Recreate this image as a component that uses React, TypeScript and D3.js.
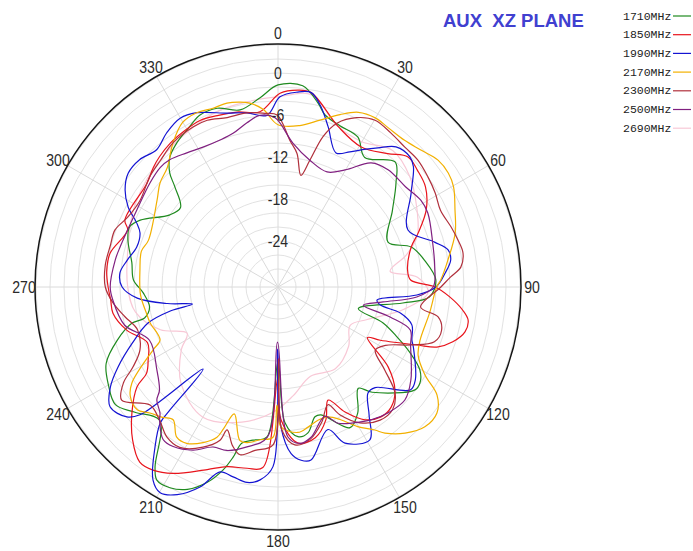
import * as d3 from "d3";

// ---- data (angle in degrees, level in dB) ----
const freqLabels = ["1710MHz", "1850MHz", "1990MHz", "2170MHz", "2300MHz", "2500MHz", "2690MHz"];
const angleTicks = [0, 30, 60, 90, 120, 150, 180, 210, 240, 270, 300, 330];
const dbTicks = [0, -6, -12, -18, -24];

const s1710: [number, number][] = [
  [0, -1.7], [7, -1.6], [12.3, -3.7], [15.3, -5.1], [21, -5.9], [28, -6.3], [33.8, -8.3], [43.1, -6.1],
  [48.6, -8.1], [56.2, -10.9], [67.8, -13.6], [73.3, -10.7], [79.6, -9.3], [87.5, -8.0], [93.8, -8.9],
  [97.3, -12.6], [105, -18.7], [108.9, -14.7], [112.8, -12.1], [116.6, -9.4], [120.3, -7.1], [124, -6.1],
  [126.9, -6.1], [138.2, -10.4], [141.6, -12.1], [147.6, -9.3], [152.9, -8.0], [161.4, -11.3], [164.1, -11.3],
  [168.4, -9.3], [172.4, -9.0], [177, -11.1], [180, -19.9], [184.2, -9.1], [189.3, -8.4], [193, -7.7],
  [194.8, -5.4], [196.7, -3.3], [199.9, -0.9], [204.1, 1.1], [208.3, 2.0], [212.1, 2.0], [214.3, 0.6],
  [221.6, -5.1], [228.8, -3.4], [234.1, -1.9], [240, -2.6], [246, -3.7], [251.7, -6.4], [256.1, -9.1],
  [256.9, -11.0], [261.1, -12.0], [267.5, -11.3], [272.8, -9.9], [279.5, -9.4], [287.4, -8.1], [292.1, -7.7],
  [295.9, -8.7], [303.7, -12.0], [309.2, -12.6], [314.2, -10.0], [316.5, -8.1], [320.3, -6.4], [325, -5.4],
  [331.2, -4.4], [335.6, -3.6], [341.2, -3.6], [347.9, -4.7], [354.6, -3.4],
];

const s1850: [number, number][] = [
  [0.6, -2.9], [5.8, -2.3], [9.7, -2.4], [20.6, -6.1], [30.7, -7.3], [39.4, -5.9], [45, -4.3], [50.1, -4.6],
  [55.8, -5.1], [62.5, -6.7], [68.9, -9.1], [73.3, -10.7], [82.5, -11.9], [87, -11.6], [90, -8.1], [93.3, -6.0],
  [97.1, -4.0], [99.9, -3.0], [103.5, -3.1], [107.4, -4.4], [110.7, -6.3], [112.6, -9.0], [117.5, -14.1],
  [119.5, -15.9], [126, -11.1], [131.4, -8.3], [136.7, -7.0], [141.6, -6.9], [146.8, -7.9], [151.8, -10.3],
  [156.1, -12.9], [160.2, -10.4], [166.1, -8.4], [172.7, -8.1], [178.7, -11.6], [180, -17.7], [184.8, -4.7],
  [189.7, -4.3], [195.8, -3.9], [201.2, -2.6], [209.4, 0.0], [214.3, 1.1], [218.3, 1.3], [223.5, -0.4],
  [229.2, -3.0], [234.7, -5.9], [236.7, -8.1], [240.7, -9.3], [246.9, -10.3], [254.1, -8.1], [261, -6.7],
  [265.6, -6.6], [270, -6.3], [275.3, -6.0], [281.4, -6.1], [290.7, -7.6], [293.6, -6.7], [308.4, -6.7],
  [313.8, -5.9], [317.8, -5.4], [323.1, -4.9], [328.5, -4.6], [334.9, -4.3], [340.5, -4.6], [346.8, -4.9],
  [354.1, -5.4],
];

const s1990: [number, number][] = [
  [0.6, -3.4], [5.6, -2.6], [9.7, -2.4], [13.4, -4.1], [17.4, -6.6], [23.4, -9.7], [28, -8.7], [32, -7.4],
  [35.7, -6.1], [40.1, -4.4], [45.4, -4.1], [48.4, -4.7], [54.8, -7.3], [66.3, -10.3], [74, -7.3], [77.7, -5.7],
  [81.1, -5.6], [85.2, -6.6], [90, -8.0], [93.3, -10.7], [97.5, -16.3], [100, -15.7], [102, -12.7],
  [105.8, -10.7], [111.6, -10.0], [114, -9.4], [124, -6.9], [127.8, -6.6], [136, -10.6], [139.7, -10.7],
  [144.6, -8.1], [149, -5.1], [156.8, -6.3], [160.7, -9.0], [169.2, -5.4], [172.4, -5.6], [175.5, -6.7],
  [178.8, -10.6], [180.3, -21.7], [181.6, -4.9], [185.3, -2.9], [189, -2.3], [193.3, -2.7], [197.4, -2.9],
  [201.3, 0.1], [205.9, 2.4], [209.8, 3.3], [212.9, 2.3], [217.5, -1.7], [220.9, -4.9], [221.3, -7.1],
  [222.4, -14.7], [227.2, -3.7], [229.3, -2.1], [234.5, -1.1], [239.2, -2.7], [243.4, -5.0], [249, -8.3],
  [254.5, -11.3], [257.5, -14.9], [258.7, -18.1], [261.5, -14.6], [265.5, -10.4], [270, -8.3], [275.1, -7.9],
  [280.1, -8.7], [285.8, -9.6], [291.4, -9.4], [294.4, -8.4], [298.1, -6.3], [302.4, -4.7], [307.2, -3.7],
  [312.6, -3.7], [318.5, -4.4], [324.2, -3.4], [329.9, -2.7], [335, -3.1], [343.7, -4.7], [349.9, -5.3],
  [356.3, -6.0],
];

const s2170: [number, number][] = [
  [0, -7.4], [7.7, -7.3], [14.1, -6.0], [19.8, -4.4], [24.7, -3.1], [29.9, -2.7], [34.5, -2.9], [40.8, -2.9],
  [46.2, -2.3], [51.6, -1.4], [56.2, -1.3], [60.3, -1.7], [66.5, -3.0], [73, -4.1], [81, -6.0], [87.5, -7.3],
  [90, -7.9], [99.7, -8.6], [110.5, -8.9], [116, -8.3], [120.9, -6.1], [124.2, -3.1], [128.4, -1.6],
  [133.6, -1.6], [139, -2.9], [143.8, -4.7], [145.9, -5.9], [150.3, -7.6], [154.7, -9.6], [159, -10.7],
  [163.3, -10.7], [167.9, -10.1], [172.2, -9.6], [178.8, -10.6], [180.5, -13.7], [181.9, -9.1], [186.7, -8.6],
  [191.2, -7.9], [194, -8.0], [199, -11.4], [201, -8.9], [202.1, -7.4], [205.7, -5.9], [210.3, -4.7],
  [214, -4.7], [218.3, -6.4], [221.5, -5.7], [225.5, -4.9], [228.9, -3.9], [233.4, -4.3], [236.7, -5.6],
  [243.3, -10.6], [245.8, -12.1], [254.3, -11.6], [258.8, -11.4], [266.7, -10.9], [277, -10.7], [284.7, -10.4],
  [289.9, -10.9], [305.7, -9.3], [311.4, -8.1], [317.2, -7.3], [323.9, -5.1], [329.9, -3.4], [335, -3.1],
  [340, -3.4], [344.5, -3.3], [348.4, -3.6], [351.3, -4.0], [355.2, -5.1],
];

const s2300: [number, number][] = [
  [4.7, -9.6], [8.1, -11.3], [11.6, -14.3], [14.1, -11.9], [16.7, -8.1], [19.8, -5.7], [24.9, -3.9],
  [30.2, -3.0], [36.3, -3.3], [42.2, -3.6], [47.8, -3.6], [53.7, -4.0], [59.1, -4.4], [64.7, -4.9], [70.9, -4.4],
  [75.4, -4.0], [79.6, -3.7], [83.8, -4.3], [86.7, -5.9], [90, -7.3], [98, -10.0], [100.6, -7.3], [104.8, -6.4],
  [109.3, -6.9], [113.6, -9.9], [118.5, -13.1], [123, -14.0], [127.8, -11.3], [132.2, -8.0], [136.9, -6.6],
  [142.5, -6.6], [148.9, -7.9], [154.2, -10.3], [157, -12.3], [162, -10.3], [168.2, -8.3], [173.9, -7.9],
  [178.4, -10.1], [179.5, -20.3], [181.8, -8.0], [188, -7.0], [192.7, -6.0], [196, -7.0], [199.6, -8.9],
  [200.8, -7.1], [205.1, -5.3], [211.5, -3.7], [216.5, -3.9], [221.6, -5.1], [227.3, -5.7], [234.1, -3.0],
  [238.2, -4.6], [241.1, -6.9], [245.5, -8.9], [253, -9.6], [259, -8.3], [264.5, -6.9], [270, -5.9],
  [277.2, -5.7], [284, -5.9], [289.3, -5.9], [294.9, -6.9], [302.2, -7.3], [310.7, -6.4], [317.1, -5.9],
  [323.9, -5.1], [332, -4.7], [337, -4.7], [343.3, -5.3], [349.9, -5.3], [355.7, -5.7], [359.7, -6.0],
];

const s2500: [number, number][] = [
  [5.9, -9.9], [14.1, -11.9], [23.1, -12.7], [29.8, -11.3], [36.9, -8.4], [43.2, -7.6], [51.8, -7.4],
  [58.7, -6.7], [63.7, -6.7], [74.2, -7.6], [82.7, -8.0], [90, -8.4], [94.1, -10.7], [98.1, -15.4], [102, -18.1],
  [105, -14.0], [108, -10.7], [113.6, -9.9], [125, -7.4], [131.7, -6.3], [138.9, -6.7], [145, -7.4],
  [150.5, -8.3], [156.2, -9.3], [160.1, -10.9], [167.6, -8.6], [172, -8.0], [176.2, -9.1], [180.5, -22.7],
  [184, -9.1], [191, -7.3], [197.4, -6.1], [202.1, -5.9], [207.5, -4.3], [213.3, -3.3], [217, -3.3],
  [221.6, -5.1], [223.1, -5.9], [227, -6.9], [228.9, -8.1], [235.6, -9.6], [247.5, -10.7], [256, -8.0],
  [265.5, -6.9], [270, -6.6], [279.4, -7.0], [284.2, -7.3], [298.6, -7.6], [309.1, -7.0], [315.5, -6.6],
  [319.6, -6.7], [325.8, -7.4], [331.8, -7.9], [338.5, -8.0], [343.7, -7.7], [349.3, -6.7], [354, -5.9],
  [359, -6.4],
];

const s2690: [number, number][] = [
  [0, -3.4], [10, -2.7], [20, -6.0], [30, -6.6], [40, -5.1], [50, -6.0], [60, -7.7], [70, -9.4], [76, -11.7],
  [82, -14.4], [86, -10.6], [92, -9.1], [100, -12.3], [110, -17.0], [118, -18.9], [130, -17.4], [145, -16.3],
  [160, -17.0], [172, -14.9], [182, -12.7], [195, -10.6], [210, -9.1], [225, -11.0], [237, -14.1], [243, -16.0],
  [250, -12.7], [260, -9.9], [270, -9.1], [285, -8.4], [300, -7.0], [320, -5.6], [340, -4.1], [352, -3.7],
];

const seriesData = [s1710, s1850, s1990, s2170, s2300, s2500, s2690];
const colors = ["#1f8a1f", "#e8141c", "#1414d2", "#f2b000", "#b0303c", "#802080", "#f8c8d6"];

// ---- layout ----
const W = 693;
const H = 551;
const cx = 278;
const cy = 287;
const outerR = 243;

export default function App() {
  const r = d3.scaleLinear().domain([-30, 0]).range([4, 214]);
  const rings = d3.range(-28, 4.1, 2);

  const line = d3
    .lineRadial<[number, number]>()
    .angle((d) => (d[0] * Math.PI) / 180)
    .radius((d) => r(d[1]))
    .curve(d3.curveCatmullRomClosed.alpha(0.5));

  // pale 2690 trace goes underneath the others
  const drawOrder = [6, 0, 1, 2, 3, 4, 5];

  return (
    <div style={{ position: "fixed", left: 0, top: 0, background: "#fff" }}>
      <svg width={W} height={H} style={{ display: "block", fontFamily: "'Liberation Sans', Arial, sans-serif" }}>
        <rect width={W} height={H} fill="#fff" />
        <g transform={`translate(${cx},${cy})`}>
          {rings.map((d) => (
            <circle key={d} r={r(d)} fill="none" stroke="#e2e2e2" strokeWidth={1} />
          ))}
          {angleTicks.map((a) => {
            const t = (a * Math.PI) / 180;
            return (
              <line
                key={a}
                x1={0}
                y1={0}
                x2={outerR * Math.sin(t)}
                y2={-outerR * Math.cos(t)}
                stroke="#dadada"
                strokeWidth={1}
              />
            );
          })}
          {drawOrder.map((i) => (
            <path
              key={freqLabels[i]}
              d={line([...seriesData[i]].sort((a, b) => a[0] - b[0])) || ""}
              fill="none"
              stroke={colors[i]}
              strokeWidth={1.2}
            />
          ))}
          <circle r={outerR} fill="none" stroke="#151515" strokeWidth={1.5} />
          {dbTicks.map((d) => (
            <text
              key={d}
              transform={`translate(0,${-r(d)}) scale(0.88,1)`}
              textAnchor="middle"
              dominantBaseline="central"
              fontSize={16}
              fill="#2a2a2a"
            >
              {d}
            </text>
          ))}
          {angleTicks.map((a) => {
            const t = (a * Math.PI) / 180;
            const lr = 254;
            return (
              <text
                key={a}
                transform={`translate(${lr * Math.sin(t)},${-lr * Math.cos(t)}) scale(0.88,1)`}
                textAnchor="middle"
                dominantBaseline="central"
                fontSize={16}
                fill="#2a2a2a"
              >
                {a}
              </text>
            );
          })}
        </g>
        <text x={443} y={27} fontSize={18.5} fontWeight="bold" fill="#4040d0" xmlSpace="preserve">
          AUX  XZ PLANE
        </text>
        <g fontFamily="'Liberation Mono', 'DejaVu Sans Mono', monospace" fontSize={11.5}>
          {freqLabels.map((f, i) => {
            const y = 16 + i * 18.7;
            return (
              <g key={f}>
                <text x={623} y={y} dominantBaseline="central" fill="#222">
                  {f}
                </text>
                <line x1={673} x2={691} y1={y} y2={y} stroke={colors[i]} strokeWidth={1.2} />
              </g>
            );
          })}
        </g>
      </svg>
    </div>
  );
}
